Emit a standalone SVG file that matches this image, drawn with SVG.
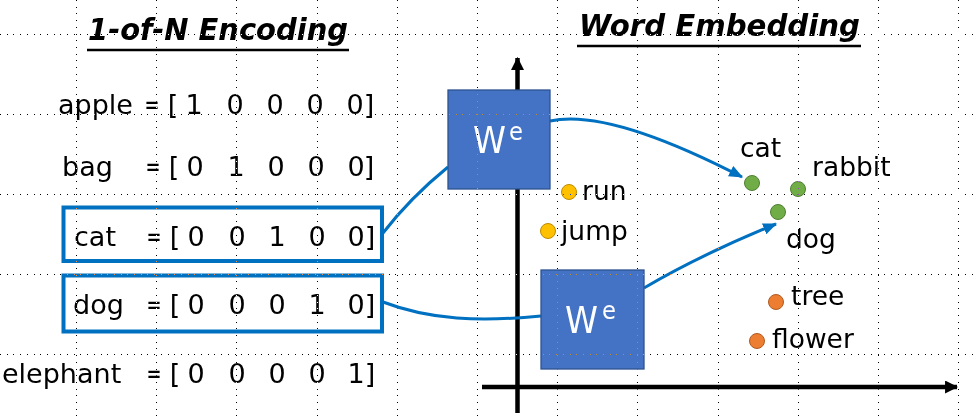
<svg xmlns="http://www.w3.org/2000/svg" width="977" height="420" viewBox="0 0 977 420">
<style>
.t{font-family:"DejaVu Sans","Liberation Sans",sans-serif;font-size:27px;fill:#000}
.m{text-anchor:middle}
.r{font-family:"DejaVu Sans","Liberation Sans",sans-serif;font-size:26.5px;fill:#000}
.ttl{font-family:"DejaVu Sans","Liberation Sans",sans-serif;font-weight:bold;font-style:italic;fill:#000}
.w{font-family:"DejaVu Sans","Liberation Sans",sans-serif;fill:#fff}
.sel{fill:none;stroke:#0070C0;stroke-width:4}
.we{fill:#4472C4;stroke:#2F528F;stroke-width:1.3}
.con{fill:none;stroke:#0070C0;stroke-width:3}
.ax{fill:none;stroke:#000;stroke-width:4.5}
.grid{stroke:#fff;stroke-width:1;stroke-dasharray:1 5.7;mix-blend-mode:difference;shape-rendering:crispEdges}
.y{fill:#FFC000;stroke:#BC8C00;stroke-width:1}
.g{fill:#70AD47;stroke:#507E32;stroke-width:1}
.o{fill:#ED7D31;stroke:#AE5A21;stroke-width:1}
</style>
<defs>
<marker id="ah" viewBox="0 0 12 10" refX="11" refY="5" markerUnits="userSpaceOnUse" markerWidth="14" markerHeight="12" orient="auto">
<path d="M0,0 L12,5 L0,10 Z" fill="#0070C0"/>
</marker>
<marker id="axh" viewBox="0 0 12 12" refX="11" refY="6" markerUnits="userSpaceOnUse" markerWidth="13" markerHeight="13" orient="auto">
<path d="M0,0 L12,6 L0,12 Z" fill="#000"/>
</marker>
</defs>
<rect width="977" height="420" fill="#fff"/>

<g id="title-left">
<text class="ttl" x="88" y="40" font-size="30" textLength="260" lengthAdjust="spacingAndGlyphs">1-of-N Encoding</text>
<line x1="87" y1="50" x2="349" y2="50" stroke="#000" stroke-width="2.5"/>
</g>
<g id="title-right">
<text class="ttl" x="579" y="36" font-size="31" textLength="281" lengthAdjust="spacingAndGlyphs">Word Embedding</text>
<line x1="577" y1="46" x2="861" y2="46" stroke="#000" stroke-width="2.5"/>
</g>

<g id="row-apple">
<text class="t" x="58" y="114">apple</text>
<text class="t m" x="152" y="114" textLength="15" lengthAdjust="spacingAndGlyphs">=</text><text class="t m" x="173" y="114">[</text>
<text class="t m" x="194" y="114">1</text><text class="t m" x="235" y="114">0</text><text class="t m" x="275" y="114">0</text><text class="t m" x="315" y="114">0</text><text class="t m" x="355" y="114">0</text>
<text class="t m" x="369" y="114">]</text>
</g>
<g id="row-bag">
<text class="t" x="62" y="176">bag</text>
<text class="t m" x="153" y="176" textLength="15" lengthAdjust="spacingAndGlyphs">=</text><text class="t m" x="174" y="176">[</text>
<text class="t m" x="195" y="176">0</text><text class="t m" x="236" y="176">1</text><text class="t m" x="276" y="176">0</text><text class="t m" x="316" y="176">0</text><text class="t m" x="356" y="176">0</text>
<text class="t m" x="369" y="176">]</text>
</g>
<g id="row-cat">
<rect class="sel" x="63.5" y="207.5" width="318.5" height="53.5"/>
<text class="t" x="74" y="246">cat</text>
<text class="t m" x="154" y="246" textLength="15" lengthAdjust="spacingAndGlyphs">=</text><text class="t m" x="175" y="246">[</text>
<text class="t m" x="196" y="246">0</text><text class="t m" x="237" y="246">0</text><text class="t m" x="277" y="246">1</text><text class="t m" x="317" y="246">0</text><text class="t m" x="356" y="246">0</text>
<text class="t m" x="370" y="246">]</text>
</g>
<g id="row-dog">
<rect class="sel" x="63.5" y="275.5" width="318.5" height="56"/>
<text class="t" x="73" y="314">dog</text>
<text class="t m" x="154" y="314" textLength="15" lengthAdjust="spacingAndGlyphs">=</text><text class="t m" x="175" y="314">[</text>
<text class="t m" x="196" y="314">0</text><text class="t m" x="237" y="314">0</text><text class="t m" x="277" y="314">0</text><text class="t m" x="317" y="314">1</text><text class="t m" x="356" y="314">0</text>
<text class="t m" x="370" y="314">]</text>
</g>
<g id="row-elephant">
<text class="t" x="2" y="383">elephant</text>
<text class="t m" x="154" y="383" textLength="15" lengthAdjust="spacingAndGlyphs">=</text><text class="t m" x="175" y="383">[</text>
<text class="t m" x="196" y="383">0</text><text class="t m" x="237" y="383">0</text><text class="t m" x="277" y="383">0</text><text class="t m" x="317" y="383">0</text><text class="t m" x="356" y="383">1</text>
<text class="t m" x="370" y="383">]</text>
</g>

<g id="axes">
<line class="ax" x1="517.5" y1="413" x2="517.5" y2="58" marker-end="url(#axh)"/>
<line class="ax" x1="482" y1="387" x2="957" y2="387" marker-end="url(#axh)"/>
</g>

<g id="connectors">
<path class="con" d="M383,233 Q410,198 448,167"/>
<path class="con" d="M550,121 C600,110 680,145 742,177" marker-end="url(#ah)"/>
<path class="con" d="M383,302 C430,320 480,322 541,316"/>
<path class="con" d="M644,288 Q700,255 776,224" marker-end="url(#ah)"/>
</g>

<g id="we-top">
<rect class="we" x="448" y="90" width="102" height="99"/>
<text class="w" x="473" y="153" font-size="38" textLength="33" lengthAdjust="spacingAndGlyphs">W</text>
<text class="w" x="509" y="140" font-size="25" textLength="14" lengthAdjust="spacingAndGlyphs">e</text>
</g>
<g id="we-bottom">
<rect class="we" x="541" y="270" width="103" height="99"/>
<text class="w" x="565" y="333" font-size="38" textLength="33" lengthAdjust="spacingAndGlyphs">W</text>
<text class="w" x="602" y="319" font-size="25" textLength="14" lengthAdjust="spacingAndGlyphs">e</text>
</g>

<g id="pt-run"><circle class="y" cx="569" cy="192" r="7.5"/><text class="r" x="582" y="200">run</text></g>
<g id="pt-jump"><circle class="y" cx="548" cy="231" r="7.5"/><text class="r" x="561" y="240">jump</text></g>
<g id="pt-cat"><circle class="g" cx="752" cy="183" r="7.5"/><text class="r" x="740" y="157">cat</text></g>
<g id="pt-rabbit"><circle class="g" cx="798" cy="189" r="7.5"/><text class="r" x="812" y="176">rabbit</text></g>
<g id="pt-dog"><circle class="g" cx="778" cy="212" r="7.5"/><text class="r" x="786" y="248">dog</text></g>
<g id="pt-tree"><circle class="o" cx="776" cy="302" r="7.5"/><text class="r" x="791" y="305">tree</text></g>
<g id="pt-flower"><circle class="o" cx="757" cy="341" r="7.5"/><text class="r" x="772" y="348">flower</text></g>

<g id="grid">
<line class="grid" x1="76.5" y1="0" x2="76.5" y2="420"/>
<line class="grid" x1="156.5" y1="0" x2="156.5" y2="420"/>
<line class="grid" x1="236.5" y1="0" x2="236.5" y2="420"/>
<line class="grid" x1="317.5" y1="0" x2="317.5" y2="420"/>
<line class="grid" x1="397.5" y1="0" x2="397.5" y2="420"/>
<line class="grid" x1="477.5" y1="0" x2="477.5" y2="420"/>
<line class="grid" x1="557.5" y1="0" x2="557.5" y2="420"/>
<line class="grid" x1="637.5" y1="0" x2="637.5" y2="420"/>
<line class="grid" x1="718.5" y1="0" x2="718.5" y2="420"/>
<line class="grid" x1="798.5" y1="0" x2="798.5" y2="420"/>
<line class="grid" x1="878.5" y1="0" x2="878.5" y2="420"/>
<line class="grid" x1="958.5" y1="0" x2="958.5" y2="420"/>
<line class="grid" x1="0" y1="34.5" x2="977" y2="34.5"/>
<line class="grid" x1="0" y1="114.5" x2="977" y2="114.5"/>
<line class="grid" x1="0" y1="194.5" x2="977" y2="194.5"/>
<line class="grid" x1="0" y1="274.5" x2="977" y2="274.5"/>
<line class="grid" x1="0" y1="354.5" x2="977" y2="354.5"/>
</g>
</svg>
